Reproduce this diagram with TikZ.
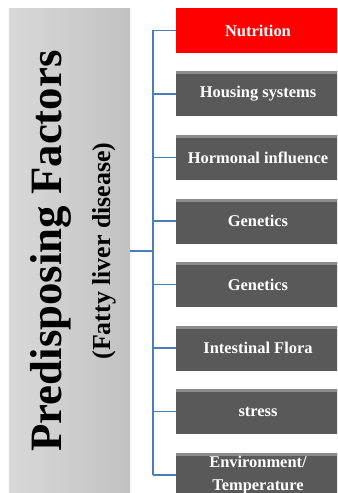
\documentclass[tikz,border=0pt]{standalone}
\usepackage{fontspec}
\setmainfont{Liberation Serif}
\usetikzlibrary{positioning}
\definecolor{linkblue}{HTML}{4A7EBB}
\definecolor{causegray}{HTML}{595959}
\definecolor{causetop}{HTML}{8C8C8C}
\definecolor{nutred}{HTML}{FF0000}

\begin{document}
\begin{tikzpicture}[x=1bp,y=-1bp,node distance=63.5bp,on grid,
    link/.style={draw=linkblue,line width=1.2bp},
    cause/.style={fill=causegray,text=white,minimum width=164bp,minimum height=45bp,
      inner sep=0pt,align=center,font=\bfseries\fontsize{16.5}{23}\selectfont,
      path picture={\fill[causetop] (path picture bounding box.north west)
        rectangle ([yshift=-3bp]path picture bounding box.north east);}},
    topcause/.style={cause,fill=nutred,path picture={}}]
  \useasboundingbox (0,0) rectangle (337,493);
  \clip (0,0) rectangle (337,493);
  % left panel
  \node[minimum width=121bp,minimum height=484bp,inner sep=0pt,
    left color=black!15,right color=black!24] (p_0) at (69.5,251) {};
  \node[rotate=90,align=center,font=\bfseries] (p_1) at (73.5,251)
    {{\fontsize{45}{51}\selectfont Predisposing Factors}\\[20bp]
     {\fontsize{26}{30}\selectfont (Fatty liver disease)}};
  \node[topcause] (f_1) at (258,30.5) {Nutrition};
  \node[cause] (f_2) [below=of f_1] {Housing systems};
  \node[cause] (f_3) [below=of f_2] {Hormonal influence};
  \node[cause] (f_4) [below=of f_3] {Genetics};
  \node[cause] (f_5) [below=of f_4] {Genetics};
  \node[cause] (f_6) [below=of f_5] {Intestinal Flora};
  \node[cause] (f_7) [below=of f_6] {stress};
  \node[cause] (f_8) [below=of f_7] {Environment/\\Temperature};
  \coordinate (j) at (153,251);
  % tree
  \draw[link] (p_0.east |- j) -- (j);
  \draw[link] (f_1.west -| j) -- (f_8.west -| j);
  \foreach \i in {1,...,8}
    \draw[link] (f_\i.west -| j) -- (f_\i.west);
\end{tikzpicture}
\end{document}
